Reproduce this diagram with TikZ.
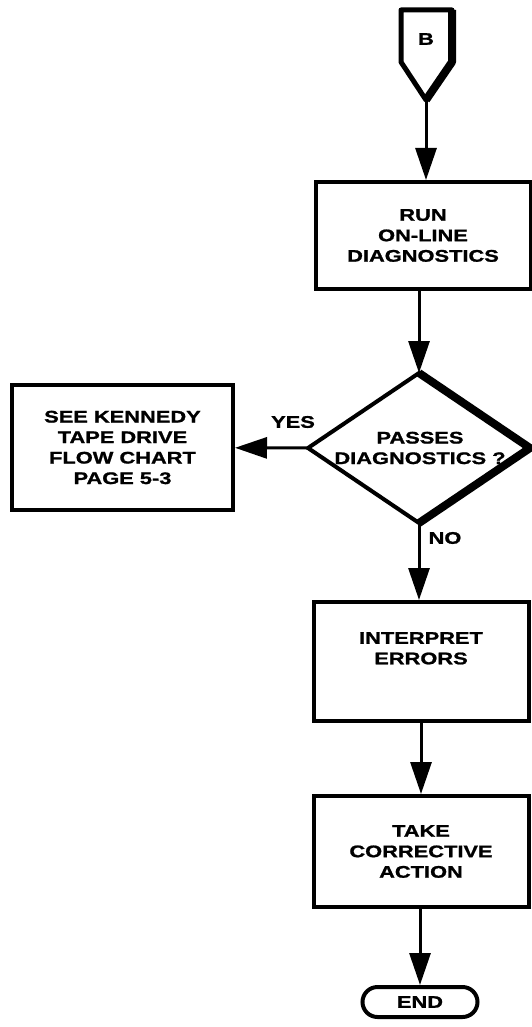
\documentclass[tikz,border=0pt]{standalone}
\usepackage{fontspec}
\newfontfamily\dfont[FakeStretch=1.3,FakeBold=1.2]{Liberation Sans Bold}
\usetikzlibrary{arrows.meta,shapes.geometric,shapes.misc}
\begin{document}
\begin{tikzpicture}[x=1pt,y=-1pt,
  txt/.style={font=\dfont\fontsize{16.8}{20.5}\selectfont, align=center},
  procbox/.style={txt, draw, line width=4pt, minimum width=215pt, inner sep=0pt},
  flow/.style={line width=3pt, -{Triangle[length=32pt,width=21pt]}},
  lbl/.style={txt, inner sep=0pt}]
\useasboundingbox (0,0) rectangle (532,1027);
% off-page connector B
\coordinate (Btl) at (401,10);
\coordinate (Btr) at (452,10);
\coordinate (Bbr) at (452,62);
\coordinate (Btip) at (426,100);
\coordinate (Bbl) at (401,62);
\draw[line width=5pt, line join=round] (Btl) -- (Btr) -- (Bbr) -- (Btip) -- (Bbl) -- cycle;
\draw[line width=8pt, line join=round] (Btr) -- (Bbr) -- (Btip);
\node[lbl] (B) at (426,39) {B};
% process boxes
\node[procbox, minimum height=107pt] (run) at (423,235.5) {RUN\\ON-LINE\\DIAGNOSTICS};
% decision diamond
\coordinate (dtop) at (419,373);
\coordinate (dright) at (530,448);
\coordinate (dbot) at (419,523);
\coordinate (dleft) at (308,448);
\draw[line width=4pt, line join=miter] (dtop) -- (dright) -- (dbot) -- (dleft) -- cycle;
\draw[line width=8pt, line join=round] (dtop) -- (dright) -- (dbot);
\node[lbl] (dec) at (420,448) {PASSES\\DIAGNOSTICS ?};
\node[procbox, minimum width=221pt, minimum height=125pt] (see) at (122.5,447.5) {SEE KENNEDY\\TAPE DRIVE\\FLOW CHART\\PAGE 5-3};
\node[procbox, minimum height=119pt] (interp) at (421,661.5) {INTERPRET\\ERRORS\\[6pt]};
\node[procbox, minimum height=111pt] (take) at (421,851.5) {TAKE\\CORRECTIVE\\ACTION};
\node[txt, draw, line width=4pt, shape=rounded rectangle, minimum width=115pt, minimum height=30pt, inner sep=0pt] (end) at (420,1002) {END};
% connectors
\draw[flow] (Btip) -- (Btip |- run.north);
\draw[flow] (run.south -| dtop) -- (dtop);
\draw[flow] (dleft) -- (see);
\draw[flow] (dbot) -- (dbot |- interp.north);
\draw[flow] (interp) -- (take);
\draw[flow] (take.south -| end.north) -- (end);
% labels
\node[lbl] (yes) at (293,422) {YES};
\node[lbl] (no) at (445,538) {NO};
\end{tikzpicture}
\end{document}
